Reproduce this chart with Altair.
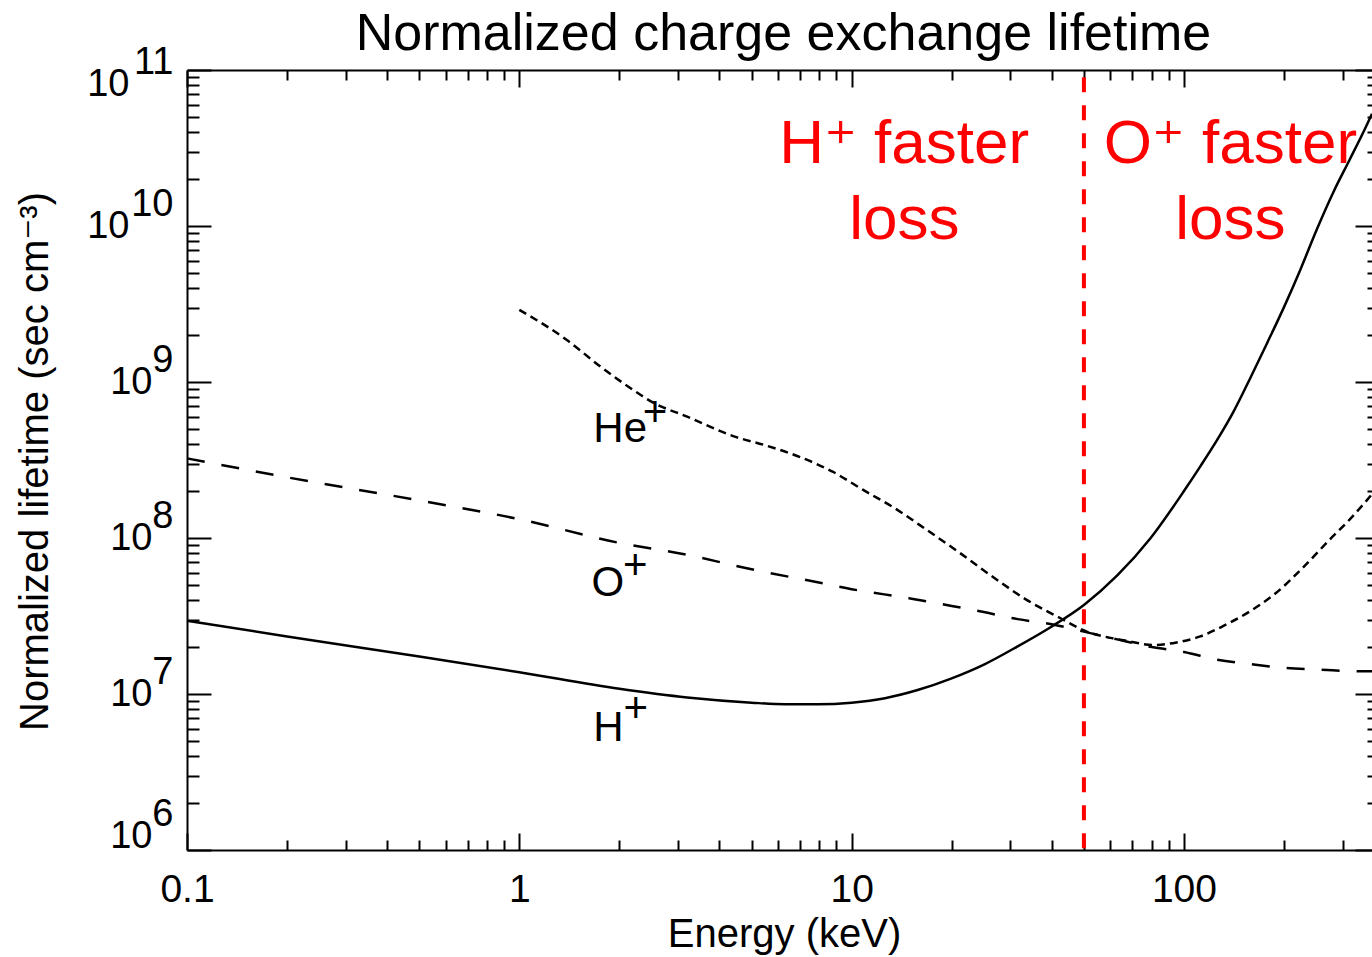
import altair as alt
import pandas as pd

# ---------------- data ----------------
# H+ (solid)
H_ENERGY = [0.1, 0.2, 0.5, 1.0, 2.0, 3.2, 5.0, 6.3, 7.9, 10, 12.6, 15.8, 20, 25.1, 31.6,
            39.8, 50, 63, 79.4, 100, 112, 126, 141, 158, 178, 200, 224, 251, 282, 316,
            350, 368]
H_LIFETIME = [2.95e7, 2.34e7, 1.74e7, 1.38e7, 1.08e7, 9.5e6, 8.8e6, 8.6e6, 8.6e6, 8.8e6,
              9.4e6, 1.06e7, 1.26e7, 1.55e7, 2.02e7, 2.69e7, 3.72e7, 5.75e7, 1.0e8, 2.0e8,
              2.88e8, 4.27e8, 6.46e8, 1.05e9, 1.78e9, 3.02e9, 5.25e9, 9.5e9, 1.66e10,
              2.69e10, 4.17e10, 5.25e10]

# O+ (dashed)
O_ENERGY = [0.1, 0.2, 0.5, 1.0, 2.0, 3.2, 5.0, 7.9, 10, 15, 20, 25, 31.6, 40, 50, 63, 80,
            100, 126, 160, 200, 260, 330, 368]
O_LIFETIME = [3.24e8, 2.45e8, 1.74e8, 1.32e8, 9.3e7, 7.8e7, 6.3e7, 5.2e7, 4.7e7, 4.1e7,
              3.67e7, 3.35e7, 3.02e7, 2.8e7, 2.51e7, 2.24e7, 2.0e7, 1.86e7, 1.66e7, 1.55e7,
              1.47e7, 1.43e7, 1.40e7, 1.40e7]

# He+ (dotted)
HE_ENERGY = [1.0, 1.39, 1.75, 2.2, 2.52, 3.2, 4.4, 5.56, 7.0, 8.8, 10.8, 13.3, 16.9, 21.2,
             26.7, 33.7, 42.4, 51, 60, 67.4, 81, 95, 112, 131, 158, 190, 228, 275, 316, 368]
HE_LIFETIME = [2.9e9, 1.86e9, 1.26e9, 8.9e8, 7.4e8, 6.0e8, 4.5e8, 3.9e8, 3.3e8, 2.65e8,
               2.04e8, 1.58e8, 1.12e8, 8.0e7, 5.6e7, 4.0e7, 3.07e7, 2.51e7, 2.29e7, 2.19e7,
               2.06e7, 2.14e7, 2.34e7, 2.72e7, 3.39e7, 4.47e7, 6.46e7, 9.8e7, 1.32e8, 1.91e8]

# curve labels (base letters and the raised "+")
CURVE_LABELS = ["He", "O", "H"]
CURVE_LABEL_ENERGY = [1.67, 1.65, 1.67]
CURVE_LABEL_LIFETIME = [4.1e8, 4.25e7, 5.0e6]
PLUS_ENERGY = [2.35, 2.05, 2.06]
PLUS_LIFETIME = [5.2e8, 5.5e7, 6.6e6]

# red region annotations
REGION_TEXT = ["H\u207a faster", "loss", "O\u207a faster", "loss"]
REGION_ENERGY = [14.4, 14.4, 138, 138]
REGION_LIFETIME = [2.54e10, 8.26e9, 2.54e10, 8.26e9]

BOUNDARY_KEV = [50]

X_DOMAIN = [0.1, 368]
Y_DOMAIN = [1e6, 1e11]
X_MAJOR = [0.1, 1, 10, 100]
X_MINOR = [0.2, 0.3, 0.4, 0.5, 0.6, 0.7, 0.8, 0.9, 2, 3, 4, 5, 6, 7, 8, 9,
           20, 30, 40, 50, 60, 70, 80, 90, 200, 300]
Y_MAJOR = [1e6, 1e7, 1e8, 1e9, 1e10, 1e11]
Y_MINOR = [k * 10.0 ** e for e in range(6, 11) for k in range(2, 10)]

# ---------------- tables ----------------
curves = pd.concat([
    pd.DataFrame({"energy": H_ENERGY, "lifetime": H_LIFETIME, "species": "H"}),
    pd.DataFrame({"energy": O_ENERGY, "lifetime": O_LIFETIME, "species": "O"}),
    pd.DataFrame({"energy": HE_ENERGY, "lifetime": HE_LIFETIME, "species": "He"}),
], ignore_index=True)
labels_df = pd.DataFrame({"text": CURVE_LABELS, "energy": CURVE_LABEL_ENERGY,
                          "lifetime": CURVE_LABEL_LIFETIME})
plus_df = pd.DataFrame({"text": ["+"] * 3, "energy": PLUS_ENERGY, "lifetime": PLUS_LIFETIME})
region_df = pd.DataFrame({"text": REGION_TEXT, "energy": REGION_ENERGY,
                          "lifetime": REGION_LIFETIME})
boundary_df = pd.DataFrame({"energy": BOUNDARY_KEV})

FONT = "Liberation Sans, DejaVu Sans, sans-serif"
X_SCALE = alt.Scale(type="log", domain=X_DOMAIN, nice=False)
Y_SCALE = alt.Scale(type="log", domain=Y_DOMAIN, nice=False)


def tick_axis(orient, values, size, domain=False, offset=0):
    return alt.Axis(orient=orient, values=values, labels=False, ticks=True,
                    tickSize=alt.ExprRef(expr=str(-size)), tickWidth=2, tickColor="black",
                    domain=domain, domainWidth=2, domainColor="black", title=None,
                    grid=False, offset=offset)


X_LABEL_AXIS = alt.Axis(
    orient="bottom", values=X_MAJOR, ticks=False, domain=False, grid=False,
    labelExpr="format(datum.value, '~g')", labelFont=FONT, labelFontSize=39,
    labelColor="black", labelPadding=51, labelBaseline="alphabetic", labelFlush=False,
    labelOverlap=False, title="Energy (keV)", titleFont=FONT, titleFontSize=40,
    titleFontWeight="normal", titleColor="black", titleX=597, titleY=96,
    titleAlign="center", titleBaseline="alphabetic")


def y_label_axis(values, expr, padding, offset=0, title=None):
    kw = dict(orient="left", values=values, ticks=False, domain=False, grid=False,
              labelExpr=expr, labelFont=FONT, labelFontSize=38, labelColor="black",
              labelPadding=padding, labelAlign="right",
              labelFlush=True, labelFlushOffset=5, labelOffset=offset, labelOverlap=False)
    if title is None:
        kw["title"] = None
    else:
        kw.update(title=title, titleFont=FONT, titleFontSize=40, titleFontWeight="normal",
                  titleColor="black", titleAngle=270, titleX=-152, titleY=391,
                  titleAlign="center", titleBaseline="middle")
    return alt.Axis(**kw)


Y_BASE_HI = y_label_axis([1e10, 1e11], "'10'", 58,
                         title="Normalized lifetime (sec cm\u207b\u00b3)")
Y_BASE_LO = y_label_axis([1e6, 1e7, 1e8, 1e9], "'10'", 35)
Y_EXP = y_label_axis(Y_MAJOR, "format(round(log(datum.value)/LN10), 'd')", 14, offset=-22)


def curve(species, axis_x, axis_y, dash=None):
    mk = dict(color="black", strokeWidth=2.5, interpolate="monotone")
    if dash is not None:
        mk["strokeDash"] = dash
    return alt.Chart(curves).transform_filter(alt.datum.species == species).mark_line(
        **mk).encode(
        x=alt.X("energy:Q", scale=X_SCALE, axis=axis_x),
        y=alt.Y("lifetime:Q", scale=Y_SCALE, axis=axis_y))


h_line = curve("H", X_LABEL_AXIS, Y_BASE_HI)
o_line = curve("O", tick_axis("bottom", X_MAJOR, 17, domain=True), Y_BASE_LO, dash=[18, 17])
he_line = curve("He", tick_axis("bottom", X_MINOR, 10), Y_EXP, dash=[8, 5])

red_rule = alt.Chart(boundary_df).mark_rule(
    color="#ff0000", strokeWidth=4, strokeDash=[15, 13]).encode(
    x=alt.X("energy:Q", scale=X_SCALE, axis=tick_axis("top", X_MAJOR, 17, domain=True)),
    y=alt.YDatum(9e10, type="quantitative", scale=Y_SCALE,
                 axis=tick_axis("left", Y_MAJOR, 24, domain=True)),
    y2=alt.Y2Datum(1e6))

region_text = alt.Chart(region_df).mark_text(
    color="#ff0000", font=FONT, fontSize=62, align="center", baseline="alphabetic").encode(
    x=alt.X("energy:Q", scale=X_SCALE, axis=tick_axis("top", X_MINOR, 10)),
    y=alt.Y("lifetime:Q", scale=Y_SCALE, axis=tick_axis("left", Y_MINOR, 12)),
    text="text:N")

curve_labels = alt.Chart(labels_df).mark_text(
    color="black", font=FONT, fontSize=42, align="left", baseline="alphabetic").encode(
    x=alt.X("energy:Q", scale=X_SCALE, axis=None),
    y=alt.Y("lifetime:Q", scale=Y_SCALE, axis=tick_axis("right", Y_MAJOR, 24, offset=7)),
    text="text:N")

plus_labels = alt.Chart(plus_df).mark_text(
    color="black", font=FONT, fontSize=42, align="left", baseline="alphabetic").encode(
    x=alt.X("energy:Q", scale=X_SCALE, axis=None),
    y=alt.Y("lifetime:Q", scale=Y_SCALE, axis=tick_axis("right", Y_MINOR, 12, offset=7)),
    text="text:N")

chart = alt.layer(
    h_line, o_line, he_line, red_rule, region_text, curve_labels, plus_labels
).resolve_axis(x="independent", y="independent").properties(
    width=1185, height=780,
    title=alt.TitleParams("Normalized charge exchange lifetime", font=FONT, fontSize=52,
                          fontWeight="normal", color="black", anchor="middle", dx=4,
                          offset=-18),
    autosize=alt.AutoSizeParams(type="none"),
    padding={"left": 187, "top": 70, "right": 0, "bottom": 107},
    background="white",
).configure_view(stroke=None).configure_axis(grid=False)

chart.save("out.html", embed_options={"renderer": "svg", "actions": False})
